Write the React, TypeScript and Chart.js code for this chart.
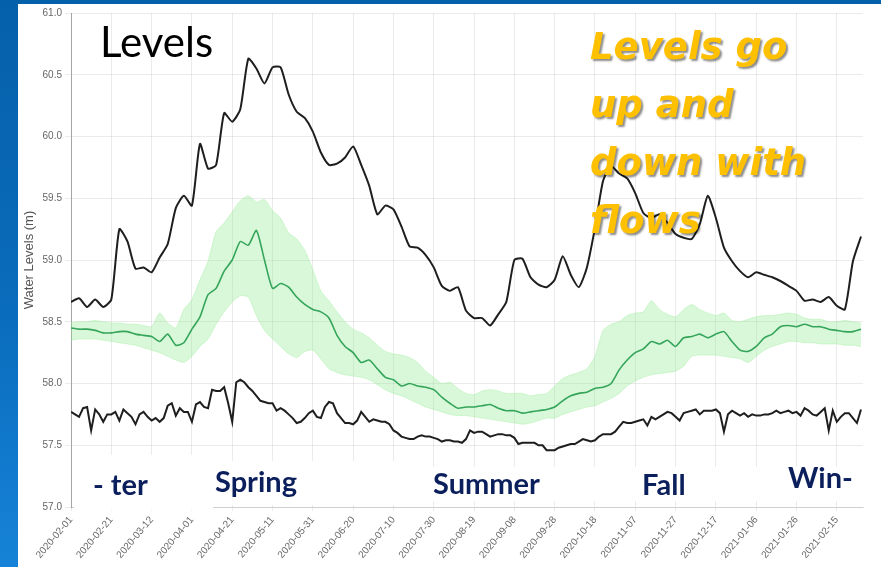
import React, { useEffect, useRef } from 'react';
import { Chart, registerables } from 'chart.js';

Chart.register(...registerables);

// Sampling steps (days) of the series below, starting 2020-02-01
const DAY_STEP = 4;
const MIN_DAY_STEP = 2;
const X_MAX_DAY = 393;

const X_TICK_LABELS = [
  '2020-02-01', '2020-02-21', '2020-03-12', '2020-04-01', '2020-04-21',
  '2020-05-11', '2020-05-31', '2020-06-20', '2020-07-10', '2020-07-30',
  '2020-08-19', '2020-09-08', '2020-09-28', '2020-10-18', '2020-11-07',
  '2020-11-27', '2020-12-17', '2021-01-06', '2021-01-26', '2021-02-15',
];

const MAX_LEVEL = [
  58.66, 58.69, 58.62, 58.68, 58.62, 58.68, 59.25, 59.15, 58.93, 58.94, 58.90, 59.02, 59.13, 59.42, 59.52, 59.44, 59.94, 59.74, 59.77, 60.19, 60.12, 60.22, 60.63, 60.55, 60.43,
  60.56, 60.56, 60.34, 60.20, 60.15, 60.04, 59.87, 59.77, 59.78, 59.83, 59.92, 59.77, 59.60, 59.37, 59.44, 59.41, 59.27, 59.11, 59.10, 59.04, 58.94, 58.79, 58.75, 58.78, 58.59,
  58.53, 58.53, 58.47, 58.56, 58.66, 59.00, 59.01, 58.86, 58.80, 58.78, 58.84, 59.03, 58.88, 58.78, 58.94, 59.26, 59.64, 59.76, 59.70, 59.66, 59.54, 59.38, 59.34, 59.37, 59.30,
  59.21, 59.18, 59.17, 59.29, 59.52, 59.34, 59.10, 58.99, 58.91, 58.86, 58.90, 58.88, 58.86, 58.83, 58.79, 58.75, 58.67, 58.68, 58.66, 58.70, 58.63, 58.60, 58.99, 59.19,
];

const MIN_LEVEL = [
  57.77, 57.75, 57.73, 57.80, 57.81, 57.62, 57.79, 57.75, 57.69, 57.75,
  57.75, 57.77, 57.70, 57.79, 57.76, 57.73, 57.67, 57.75, 57.77, 57.73,
  57.70, 57.72, 57.69, 57.72, 57.82, 57.84, 57.74, 57.80, 57.77, 57.77,
  57.69, 57.83, 57.85, 57.81, 57.80, 57.95, 57.94, 57.94, 57.97, 57.84,
  57.69, 58.01, 58.03, 58.01, 57.97, 57.94, 57.90, 57.86, 57.85, 57.84,
  57.84, 57.78, 57.80, 57.78, 57.75, 57.72, 57.68, 57.69, 57.72, 57.76,
  57.78, 57.73, 57.72, 57.81, 57.85, 57.84, 57.76, 57.72, 57.68, 57.68,
  57.67, 57.70, 57.77, 57.73, 57.69, 57.71, 57.70, 57.69, 57.69, 57.67,
  57.62, 57.60, 57.57, 57.56, 57.55, 57.55, 57.57, 57.58, 57.57, 57.57,
  57.56, 57.55, 57.53, 57.54, 57.54, 57.53, 57.53, 57.52, 57.55, 57.62,
  57.60, 57.61, 57.61, 57.59, 57.57, 57.58, 57.59, 57.59, 57.58, 57.58,
  57.56, 57.51, 57.52, 57.52, 57.52, 57.52, 57.50, 57.50, 57.46, 57.46,
  57.46, 57.48, 57.49, 57.50, 57.51, 57.51, 57.53, 57.55, 57.54, 57.53,
  57.54, 57.57, 57.59, 57.59, 57.59, 57.61, 57.65, 57.69, 57.68, 57.68,
  57.69, 57.70, 57.71, 57.66, 57.73, 57.71, 57.73, 57.75, 57.77, 57.76,
  57.73, 57.70, 57.76, 57.77, 57.78, 57.79, 57.75, 57.78, 57.78, 57.78,
  57.79, 57.76, 57.61, 57.75, 57.78, 57.76, 57.74, 57.76, 57.73, 57.75,
  57.74, 57.74, 57.75, 57.75, 57.76, 57.78, 57.76, 57.77, 57.78, 57.76,
  57.77, 57.74, 57.80, 57.78, 57.75, 57.74, 57.77, 57.80, 57.62, 57.78,
  57.69, 57.73, 57.76, 57.76, 57.72, 57.68, 57.79,
];

const MEDIAN_LEVEL = [
  58.45, 58.44, 58.44, 58.43, 58.41, 58.41, 58.42, 58.42, 58.40, 58.39, 58.38, 58.34, 58.40, 58.31, 58.33, 58.44, 58.54, 58.72, 58.77, 58.91, 59.00, 59.15, 59.12, 59.24, 59.00,
  58.77, 58.81, 58.78, 58.70, 58.64, 58.60, 58.58, 58.53, 58.39, 58.30, 58.25, 58.17, 58.19, 58.12, 58.05, 58.03, 57.98, 58.00, 57.98, 57.97, 57.95, 57.89, 57.84, 57.80, 57.81,
  57.81, 57.82, 57.83, 57.80, 57.78, 57.78, 57.76, 57.77, 57.78, 57.79, 57.81, 57.86, 57.90, 57.92, 57.93, 57.96, 57.97, 58.00, 58.11, 58.19, 58.25, 58.28, 58.34, 58.32, 58.35,
  58.30, 58.37, 58.38, 58.40, 58.37, 58.40, 58.42, 58.34, 58.27, 58.26, 58.30, 58.37, 58.40, 58.46, 58.47, 58.46, 58.48, 58.46, 58.46, 58.44, 58.43, 58.42, 58.42, 58.44,
];

const BAND_HIGH = [
  58.49, 58.50, 58.50, 58.51, 58.50, 58.49, 58.49, 58.48, 58.48, 58.47, 58.46, 58.57, 58.49, 58.45, 58.60, 58.68, 58.84, 58.99, 59.23, 59.30, 59.39, 59.48, 59.52, 59.47, 59.49,
  59.40, 59.34, 59.22, 59.17, 59.08, 58.92, 58.75, 58.67, 58.58, 58.50, 58.44, 58.41, 58.37, 58.31, 58.26, 58.24, 58.23, 58.21, 58.17, 58.10, 58.05, 58.00, 58.01, 57.96, 57.92,
  57.91, 57.94, 57.95, 57.94, 57.92, 57.92, 57.92, 57.90, 57.91, 57.92, 57.98, 58.04, 58.07, 58.09, 58.12, 58.22, 58.43, 58.48, 58.50, 58.55, 58.57, 58.58, 58.67, 58.60, 58.56,
  58.54, 58.60, 58.64, 58.60, 58.57, 58.55, 58.57, 58.51, 58.50, 58.52, 58.54, 58.55, 58.55, 58.56, 58.57, 58.56, 58.53, 58.52, 58.52, 58.50, 58.50, 58.51, 58.50, 58.49,
];

const BAND_LOW = [
  58.35, 58.36, 58.36, 58.36, 58.35, 58.34, 58.33, 58.32, 58.31, 58.29, 58.27, 58.25, 58.22, 58.19, 58.17, 58.22, 58.30, 58.36, 58.48, 58.58, 58.66, 58.71, 58.70, 58.55, 58.43,
  58.36, 58.30, 58.24, 58.21, 58.26, 58.27, 58.20, 58.12, 58.09, 58.07, 58.06, 58.05, 58.03, 57.99, 57.95, 57.92, 57.90, 57.87, 57.84, 57.81, 57.79, 57.77, 57.75, 57.74, 57.74,
  57.73, 57.72, 57.71, 57.70, 57.69, 57.68, 57.67, 57.68, 57.70, 57.72, 57.72, 57.75, 57.77, 57.79, 57.81, 57.82, 57.85, 57.88, 57.92, 57.98, 58.02, 58.05, 58.07, 58.08, 58.09,
  58.10, 58.14, 58.22, 58.23, 58.23, 58.23, 58.22, 58.21, 58.20, 58.17, 58.22, 58.27, 58.30, 58.32, 58.34, 58.34, 58.33, 58.33, 58.32, 58.32, 58.32, 58.31, 58.31, 58.30,
];

const Y_MIN = 57;
const Y_MAX = 61;

const toPoints = (values: number[], step: number) => values.map((y, i) => ({ x: i * step, y }));

const TICK_FONT = { family: "'Liberation Sans', Arial, sans-serif", size: 10 };

function LevelsChart() {
  const ref = useRef<HTMLCanvasElement | null>(null);
  useEffect(() => {
    if (!ref.current) return;
    const chart = new Chart(ref.current, {
      type: 'line',
      data: {
        datasets: [
          { label: 'Max', data: toPoints(MAX_LEVEL, DAY_STEP), borderColor: '#1e1e1e', borderWidth: 2, pointRadius: 0, tension: 0.2, fill: false },
          { label: 'Min', data: toPoints(MIN_LEVEL, MIN_DAY_STEP), borderColor: '#1e1e1e', borderWidth: 2, pointRadius: 0, tension: 0, fill: false },
          { label: 'Median', data: toPoints(MEDIAN_LEVEL, DAY_STEP), borderColor: 'rgb(52,165,90)', borderWidth: 1.6, pointRadius: 0, tension: 0.2, fill: false },
          { label: 'Upper', data: toPoints(BAND_HIGH, DAY_STEP), borderColor: 'rgba(150,235,150,0.35)', borderWidth: 1, pointRadius: 0, tension: 0.2, fill: '+1', backgroundColor: 'rgba(130,232,130,0.3)' },
          { label: 'Lower', data: toPoints(BAND_LOW, DAY_STEP), borderColor: 'rgba(150,235,150,0.35)', borderWidth: 1, pointRadius: 0, tension: 0.2, fill: false },
        ],
      },
      options: {
        animation: false,
        responsive: false,
        maintainAspectRatio: false,
        devicePixelRatio: 1,
        layout: { padding: { left: 0, top: 7, right: 18, bottom: 0 } },
        plugins: { legend: { display: false }, tooltip: { enabled: false } },
        scales: {
          x: {
            type: 'linear',
            min: 0,
            max: X_MAX_DAY,
            ticks: {
              stepSize: 20,
              includeBounds: false,
              autoSkip: false,
              minRotation: 50,
              maxRotation: 50,
              color: '#666',
              font: TICK_FONT,
              callback: (_v: any, i: number) => X_TICK_LABELS[i] ?? '',
            },
            grid: { color: 'rgba(0,0,0,0.08)', tickLength: 4 },
            border: { color: 'rgba(0,0,0,0.12)' },
            afterFit: (s: any) => { s.height = 60; },
          },
          y: {
            min: Y_MIN,
            max: Y_MAX,
            ticks: { stepSize: 0.5, color: '#666', font: TICK_FONT, callback: (v: any) => Number(v).toFixed(1) },
            grid: { color: 'rgba(0,0,0,0.08)', tickLength: 6 },
            border: { color: 'rgba(0,0,0,0.3)' },
            title: { display: true, text: 'Water Levels (m)', color: '#555', font: { family: TICK_FONT.family, size: 13 }, padding: { top: 4, bottom: 4 } },
            afterFit: (s: any) => { s.width = 53; },
          },
        },
      },
    } as any);
    return () => chart.destroy();
  }, []);
  return <canvas ref={ref} width={863} height={563} style={{ position: 'absolute', left: 18, top: 4, width: 863, height: 563 }} />;
}

const seasonStyle: React.CSSProperties = {
  position: 'absolute',
  fontFamily: "Lato, 'Open Sans', sans-serif",
  fontWeight: 700,
  fontSize: 29,
  lineHeight: '29px',
  color: '#0b1f5c',
  whiteSpace: 'nowrap',
};

export default function App() {
  return (
    <div style={{ position: 'fixed', left: 0, top: 0, width: 881, height: 567, overflow: 'hidden', background: 'linear-gradient(180deg, #0560aa 0%, #0a6cbc 55%, #1683d8 100%)' }}>
      <div style={{ position: 'absolute', left: 18, top: 4, right: 0, bottom: 0, background: '#ffffff' }} />
      <LevelsChart />
      {/* white label boxes over the lower grid */}
      <div style={{ position: 'absolute', left: 74, top: 455, width: 139, height: 55, background: '#fff' }} />
      <div style={{ position: 'absolute', left: 213, top: 461, width: 197, height: 44, background: '#fff' }} />
      <div style={{ position: 'absolute', left: 410, top: 467, width: 453, height: 34, background: '#fff' }} />
      <div style={{ ...seasonStyle, left: 93, top: 469 }}>- ter</div>
      <div style={{ ...seasonStyle, left: 215, top: 466 }}>Spring</div>
      <div style={{ ...seasonStyle, left: 433, top: 468 }}>Summer</div>
      <div style={{ ...seasonStyle, left: 642, top: 469 }}>Fall</div>
      <div style={{ ...seasonStyle, left: 788, top: 462 }}>Win-</div>
      <div style={{ position: 'absolute', left: 100, top: 20, fontFamily: "Lato, 'Open Sans', sans-serif", fontSize: 42, lineHeight: '42px', color: '#000', whiteSpace: 'nowrap' }}>Levels</div>
      <div style={{ position: 'absolute', left: 590, top: 18, width: 280, fontFamily: "'DejaVu Sans', sans-serif", fontWeight: 700, fontStyle: 'italic', fontSize: 37, lineHeight: '58px', color: '#ffc000', textShadow: '2px 2px 2px rgba(0,0,0,0.45)' }}>
        Levels go<br />up and<br />down with<br />flows
      </div>
    </div>
  );
}
